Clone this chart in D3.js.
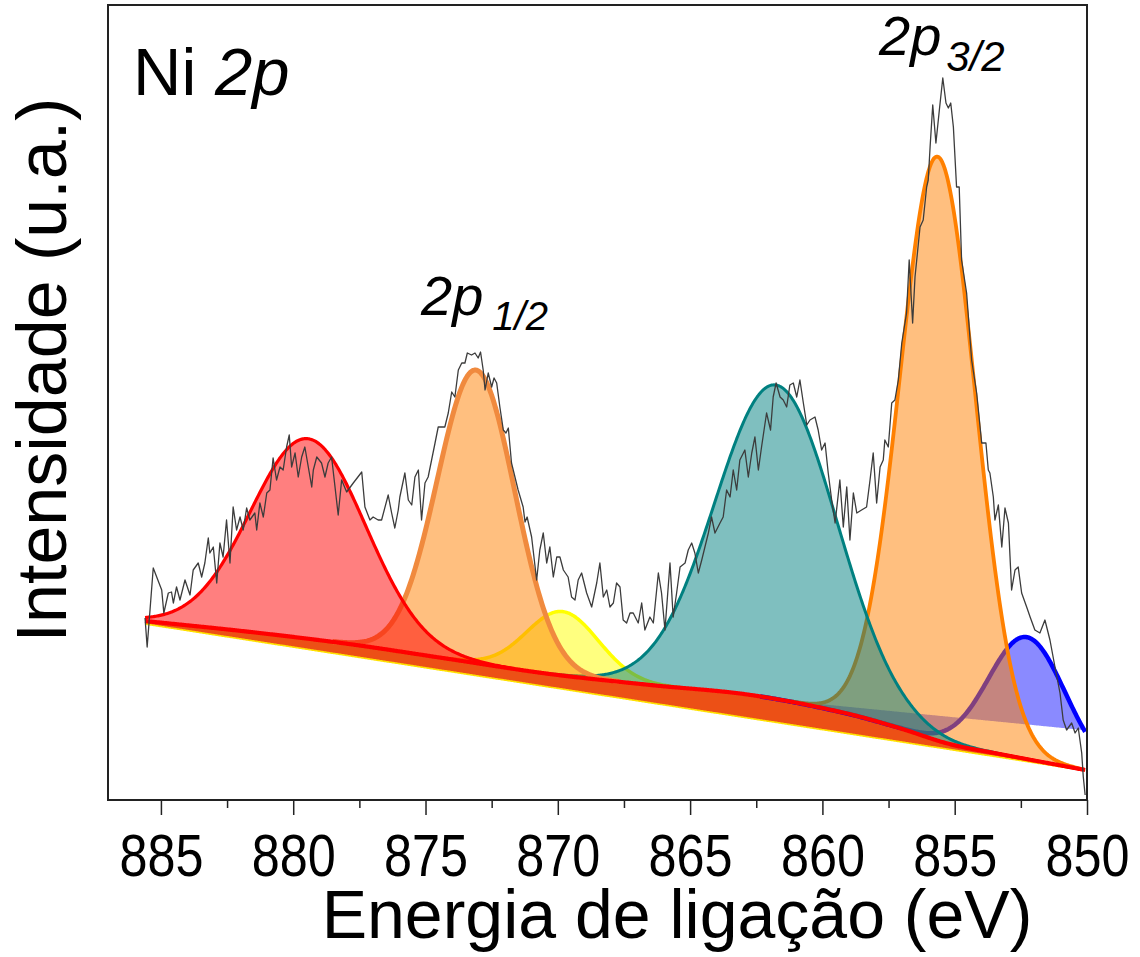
<!DOCTYPE html>
<html><head><meta charset="utf-8">
<script src="https://cdn.jsdelivr.net/npm/d3@7"></script>
<style>body{margin:0;background:#fff;} svg{display:block;}</style>
</head><body>
<svg id="chart" width="1140" height="957"></svg>
<script>
// ---------- DATA ----------
// Raw spectrum: [binding energy (eV), intensity (a.u.)]
const rawSpectrum = [
[885.60,182],[885.52,153],[885.29,232],[884.97,210],[884.89,187],[884.72,207],[884.60,208],[884.53,197],[884.41,213],[884.28,200],
[884.09,220],[883.90,205],[883.78,230],[883.59,237],[883.46,223],[883.34,237],[883.21,262],[883.15,247],[883.02,253],[882.89,217],
[882.77,257],[882.65,243],[882.52,280],[882.39,237],[882.27,293],[882.14,270],[882.01,283],[881.89,270],[881.76,292],[881.64,280],
[881.45,287],[881.38,270],[881.26,297],[881.13,283],[881.00,307],[880.88,310],[880.76,342],[880.63,320],[880.50,333],[880.38,330],
[880.25,353],[880.15,365],[880.06,333],[879.93,347],[879.81,323],[879.68,343],[879.56,353],[879.43,333],[879.30,313],[879.24,330],
[879.11,343],[878.93,337],[878.80,323],[878.68,337],[878.55,343],[878.42,313],[878.30,285],[878.17,320],[877.98,308],[877.73,317],
[877.41,328],[877.29,293],[877.10,280],[876.98,283],[876.79,280],[876.66,280],[876.41,305],[876.28,287],[876.16,272],[876.03,290],
[875.97,303],[875.78,327],[875.65,300],[875.52,295],[875.40,323],[875.27,330],[875.15,280],[875.02,317],[874.90,323],[874.77,340],
[874.64,357],[874.52,373],[874.27,373],[874.14,387],[874.01,408],[873.89,403],[873.76,430],[873.63,437],[873.51,437],[873.42,447],
[873.26,445],[873.13,447],[873.01,442],[872.92,448],[872.82,430],[872.75,410],[872.63,427],[872.50,413],[872.41,422],[872.31,417],
[872.19,393],[872.06,370],[871.96,367],[871.87,372],[871.75,337],[871.62,323],[871.50,310],[871.31,293],[871.24,278],[871.16,283],
[870.99,263],[870.80,220],[870.68,250],[870.55,267],[870.42,237],[870.30,253],[870.17,223],[870.04,243],[869.92,243],[869.79,230],
[869.61,223],[869.48,203],[869.35,200],[869.23,220],[869.10,227],[868.91,207],[868.72,193],[868.53,217],[868.41,237],[868.28,203],
[868.15,210],[868.03,193],[867.90,197],[867.78,217],[867.65,213],[867.53,180],[867.40,177],[867.27,187],[867.15,187],[866.96,177],
[866.83,197],[866.71,170],[866.52,183],[866.39,177],[866.20,227],[866.08,207],[865.95,170],[865.76,237],[865.64,183],[865.51,207],
[865.38,233],[865.19,237],[865.07,250],[864.94,257],[864.82,247],[864.69,227],[864.56,240],[864.44,253],[864.31,267],[864.19,283],
[864.06,267],[863.87,277],[863.75,283],[863.62,310],[863.49,303],[863.37,330],[863.24,310],[863.12,340],[862.93,350],[862.80,323],
[862.67,347],[862.55,363],[862.42,330],[862.30,353],[862.11,387],[861.96,370],[861.86,403],[861.75,417],[861.60,403],[861.48,400],
[861.35,393],[861.23,415],[861.10,417],[860.97,403],[860.85,420],[860.72,397],[860.59,375],[860.47,380],[860.28,383],[860.16,370],
[860.03,350],[859.90,357],[859.78,327],[859.65,300],[859.52,277],[859.34,320],[859.21,273],[859.08,313],[858.96,260],[858.83,307],
[858.70,287],[858.52,290],[858.33,293],[858.20,320],[858.08,347],[857.95,297],[857.82,333],[857.70,340],[857.64,360],[857.51,353],
[857.38,397],[857.26,400],[857.13,420],[857.00,457],[856.82,487],[856.72,540],[856.59,477],[856.50,523],[856.31,573],[856.19,580],
[856.06,613],[856.00,620],[855.93,653],[855.83,695],[855.71,657],[855.58,690],[855.45,722],[855.33,697],[855.24,692],[855.15,697],
[855.05,673],[854.93,613],[854.83,613],[854.74,540],[854.55,507],[854.36,440],[854.17,407],[853.98,357],[853.82,357],[853.73,330],
[853.67,327],[853.54,303],[853.48,280],[853.35,295],[853.22,253],[853.10,292],[852.97,277],[852.85,210],[852.72,230],[852.60,233],
[852.47,207],[852.28,193],[852.15,183],[851.97,170],[851.78,167],[851.59,180],[851.40,160],[851.21,133],[851.02,107],[850.90,80],
[850.77,70],[850.58,77],[850.45,67],[850.33,72],[850.20,47],[850.14,23],[850.07,5]
];

// Shirley-type background samples
const bgEnergy  = [885.6, 881.6, 877.9, 874.1, 870.3, 866.5, 862.7, 859.0, 857.1, 855.2, 853.3, 850.07];
const bgShirley = [179,   168,   156,   141,   126,   115,   105,   86,    72,    56,    46,    30];
// Linear baseline (end points)
const linEnergy = [885.6, 850.07];
const linValue  = [176,   29.4];
// Linear baseline used by the 852 eV component
const baseBEnergy = [862.36, 850.07];
const baseBValue  = [101.9, 69.8];

// Fitted components
const peakNames   = ["sat 879", "2p1/2", "sat 870", "sat 862", "2p3/2", "852"];
const peakCenters = [879.44, 873.09, 869.82, 861.75, 855.64, 852.27];
const peakHeights = [200,    293,    64,     314,    584,    122];
const peakFWHM    = [5.1,    3.45,   3.2,    5.4,    3.35,   3.4];

const xTicks = [885, 880, 875, 870, 865, 860, 855, 850];
const xMinorTicks = [882.5, 877.5, 872.5, 867.5, 862.5, 857.5, 852.5];

// ---------- STYLES ----------
const peakStyle = [
  {fill:"rgba(255,0,0,0.5)",   stroke:"#ff0000", sw:3.2},
  {fill:"rgba(255,128,0,0.5)", stroke:"#f08a3e", sw:5},
  {fill:"rgba(255,255,0,0.5)", stroke:"#ffff00", sw:3.5},
  {fill:"rgba(0,128,128,0.5)", stroke:"#008080", sw:3},
  {fill:"rgba(255,128,0,0.5)", stroke:"#ff8000", sw:3.8},
  {fill:"rgba(0,0,255,0.46)",  stroke:"#0000ff", sw:4.5}
];
const drawOrder = [2, 5, 4, 3, 1, 0];

const L = 108, R = 1087, T = 5, B = 800;
const svg = d3.select("#chart");
const x = d3.scaleLinear().domain([887, 850]).range([L, R]);
const y = d3.scaleLinear().domain([0, 795]).range([B, T]);

// monotone cubic interpolation of the background samples
function monotone(xsIn, ysIn) {
  const idx = d3.range(xsIn.length).sort((a,b)=>xsIn[a]-xsIn[b]);
  const xs = idx.map(i=>xsIn[i]), ys = idx.map(i=>ysIn[i]);
  const n = xs.length, d = [], m = new Array(n);
  for (let i=0;i<n-1;i++) d.push((ys[i+1]-ys[i])/(xs[i+1]-xs[i]));
  m[0]=d[0]; m[n-1]=d[n-2];
  for (let i=1;i<n-1;i++) m[i] = (d[i-1]*d[i] <= 0) ? 0 : (d[i-1]+d[i])/2;
  for (let i=0;i<n-1;i++){
    if (d[i]===0){m[i]=0;m[i+1]=0;continue;}
    const a=m[i]/d[i], b=m[i+1]/d[i], s=a*a+b*b;
    if (s>9){const t=3/Math.sqrt(s); m[i]=t*a*d[i]; m[i+1]=t*b*d[i];}
  }
  return e => {
    let i = d3.bisectRight(xs, e)-1; i=Math.max(0,Math.min(n-2,i));
    const h=xs[i+1]-xs[i], t=(e-xs[i])/h, t2=t*t, t3=t2*t;
    return (2*t3-3*t2+1)*ys[i]+(t3-2*t2+t)*h*m[i]+(-2*t3+3*t2)*ys[i+1]+(t3-t2)*h*m[i+1];
  };
}
const S = monotone(bgEnergy, bgShirley);
const lin = d3.scaleLinear().domain(linEnergy).range(linValue);
const baseB = d3.scaleLinear().domain(baseBEnergy).range(baseBValue);
const gauss = k => e => peakHeights[k]*Math.exp(-4*Math.LN2*Math.pow(e-peakCenters[k],2)/(peakFWHM[k]*peakFWHM[k]));

const eMin = 850.07, eMax = 885.6;
const grid = d3.range(eMin, eMax, 0.04).concat([eMax]);

const plot = svg.append("g");
svg.append("clipPath").attr("id","clipP").append("rect")
  .attr("x",L).attr("y",T).attr("width",R-L).attr("height",B-T);
plot.attr("clip-path","url(#clipP)");

// band between linear baseline and Shirley background
plot.append("path").datum(grid)
  .attr("d", d3.area().x(e=>x(e)).y0(e=>y(lin(e))).y1(e=>y(S(e))))
  .attr("fill","#ec5016");
plot.append("path").datum(grid)
  .attr("d", d3.line().x(e=>x(e)).y(e=>y(lin(e))))
  .attr("fill","none").attr("stroke","#ffe100").attr("stroke-width",1.6);

// components
drawOrder.forEach(k => {
  const g = gauss(k);
  const st = peakStyle[k];
  let pts = grid.filter(e => g(e) > 0.3);
  if (k === 5) {
    const bp = grid.filter(e => e <= baseBEnergy[0]);
    plot.append("path").datum(bp)
      .attr("d", d3.area().x(e=>x(e)).y0(e=>y(baseB(e))).y1(e=>y(S(e)+g(e))))
      .attr("fill", st.fill);
    pts = bp;
  } else {
    plot.append("path").datum(pts)
      .attr("d", d3.area().x(e=>x(e)).y0(e=>y(S(e))).y1(e=>y(S(e)+g(e))))
      .attr("fill", st.fill);
  }
  plot.append("path").datum(pts)
    .attr("d", d3.line().x(e=>x(e)).y(e=>y(S(e)+g(e))))
    .attr("fill","none").attr("stroke", st.stroke).attr("stroke-width", st.sw)
    .attr("stroke-linejoin","round");
});

// Shirley background line
plot.append("path").datum(grid)
  .attr("d", d3.line().x(e=>x(e)).y(e=>y(S(e))))
  .attr("fill","none").attr("stroke","#ff0000").attr("stroke-width",4.2);

// raw data
plot.append("path").datum(rawSpectrum)
  .attr("d", d3.line().x(d=>x(d[0])).y(d=>y(d[1])))
  .attr("fill","none").attr("stroke","#3c3c3c").attr("stroke-width",1.3)
  .attr("stroke-linejoin","round");

// frame
svg.append("rect").attr("x",L).attr("y",T).attr("width",R-L).attr("height",B-T)
  .attr("fill","none").attr("stroke","#222").attr("stroke-width",2);

// axes
const gx = svg.append("g").attr("transform",`translate(0,${B})`)
  .call(d3.axisBottom(x).tickValues(xTicks).tickSize(15).tickFormat(d3.format("d")));
gx.select(".domain").remove();
gx.selectAll(".tick line").attr("stroke","#222").attr("stroke-width",1.5);
gx.selectAll(".tick text").attr("y",76).attr("dy",0)
  .attr("font-size",60).attr("font-family","'Liberation Sans', Arial, sans-serif")
  .attr("fill","#000").attr("textLength",84).attr("lengthAdjust","spacingAndGlyphs");
const gm = svg.append("g").attr("transform",`translate(0,${B})`)
  .call(d3.axisBottom(x).tickValues(xMinorTicks).tickSize(8).tickFormat(""));
gm.select(".domain").remove();
gm.selectAll(".tick line").attr("stroke","#222").attr("stroke-width",1.5);

const FF = "'Liberation Sans', Arial, sans-serif";
// axis titles
svg.append("text").attr("x",677).attr("y",938).attr("text-anchor","middle")
  .attr("font-family",FF).attr("font-size",68).attr("fill","#000")
  .text("Energia de ligação (eV)");
svg.append("text").attr("transform","translate(66,370) rotate(-90)").attr("text-anchor","middle")
  .attr("font-family",FF).attr("font-size",70).attr("fill","#000")
  .text("Intensidade (u.a.)");

// annotations
const t1 = svg.append("text").attr("x",133).attr("y",95).attr("font-family",FF).attr("font-size",67).attr("fill","#000");
t1.append("tspan").text("Ni ");
t1.append("tspan").attr("font-style","italic").text("2p");

const t2 = svg.append("text").attr("x",879).attr("y",55).attr("font-family",FF).attr("fill","#000").attr("font-style","italic");
t2.append("tspan").attr("font-size",56).text("2p");
t2.append("tspan").attr("font-size",42).attr("dx",5).attr("dy",16).text("3/2");

const t3 = svg.append("text").attr("x",421).attr("y",315).attr("font-family",FF).attr("fill","#000").attr("font-style","italic");
t3.append("tspan").attr("font-size",56).text("2p");
t3.append("tspan").attr("font-size",40).attr("dx",9).attr("dy",15).text("1/2");
</script>
</body></html>
